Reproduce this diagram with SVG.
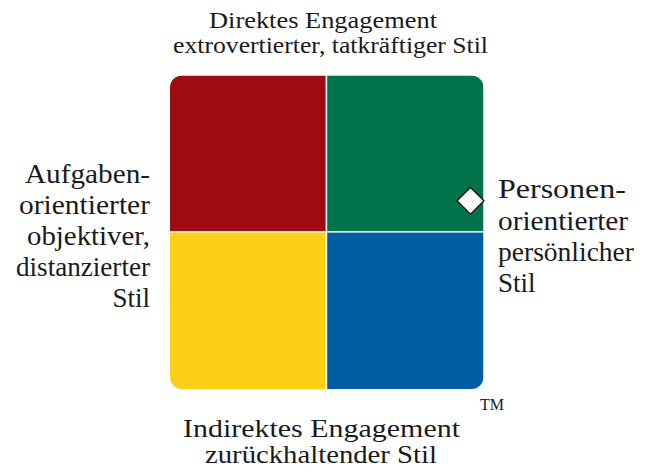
<svg xmlns="http://www.w3.org/2000/svg" width="649" height="472" viewBox="0 0 649 472">
<style>
text{fill:#1a1a1a}
.r{text-anchor:end}
</style>
<defs>
<clipPath id="sq"><rect x="170" y="75.5" width="313.5" height="313.5" rx="12" ry="12"/></clipPath>
</defs>
<rect width="649" height="472" fill="#ffffff"/>
<g id="quadrants" clip-path="url(#sq)">
<g id="q-red"><rect x="170" y="75.5" width="155.6" height="155.6" fill="#9E0B10"/></g>
<g id="q-green"><rect x="327.2" y="75.5" width="156.3" height="155.6" fill="#00734A"/></g>
<g id="q-yellow"><rect x="170" y="232.6" width="155.6" height="156.4" fill="#FCD115"/></g>
<g id="q-blue"><rect x="327.2" y="232.6" width="156.3" height="156.4" fill="#005DA3"/></g>
</g>
<g id="marker">
<polygon points="470.5,187.5 484,200.8 470.5,214.2 457,200.8" fill="#ffffff" stroke="#111111" stroke-width="1.3"/>
</g>
<g id="label-top" font-family="Liberation Serif, Times New Roman, serif" font-size="24">
<text x="209" y="28" textLength="228" lengthAdjust="spacingAndGlyphs">Direktes Engagement</text>
<text x="173" y="53" textLength="315" lengthAdjust="spacingAndGlyphs">extrovertierter, tatkräftiger Stil</text>
</g>
<g id="label-left" font-family="Liberation Serif, Times New Roman, serif" font-size="27">
<text class="r" x="150" y="183" textLength="125" lengthAdjust="spacingAndGlyphs">Aufgaben-</text>
<text class="r" x="150" y="214" textLength="131" lengthAdjust="spacingAndGlyphs">orientierter</text>
<text class="r" x="150" y="245" textLength="123" lengthAdjust="spacingAndGlyphs">objektiver,</text>
<text class="r" x="150" y="276" textLength="134" lengthAdjust="spacingAndGlyphs">distanzierter</text>
<text class="r" x="150" y="307">Stil</text>
</g>
<g id="label-right" font-family="Liberation Serif, Times New Roman, serif" font-size="27">
<text x="498" y="198" textLength="128" lengthAdjust="spacingAndGlyphs">Personen-</text>
<text x="498" y="230" textLength="130" lengthAdjust="spacingAndGlyphs">orientierter</text>
<text x="498" y="261" textLength="136" lengthAdjust="spacingAndGlyphs">persönlicher</text>
<text x="498" y="292">Stil</text>
</g>
<g id="label-bottom" font-family="Liberation Serif, Times New Roman, serif" font-size="26">
<text x="183" y="437" textLength="277" lengthAdjust="spacingAndGlyphs">Indirektes Engagement</text>
<text x="205" y="463" textLength="232" lengthAdjust="spacingAndGlyphs">zurückhaltender Stil</text>
<text x="480" y="410" font-size="16" textLength="24" lengthAdjust="spacingAndGlyphs">TM</text>
</g>
</svg>
